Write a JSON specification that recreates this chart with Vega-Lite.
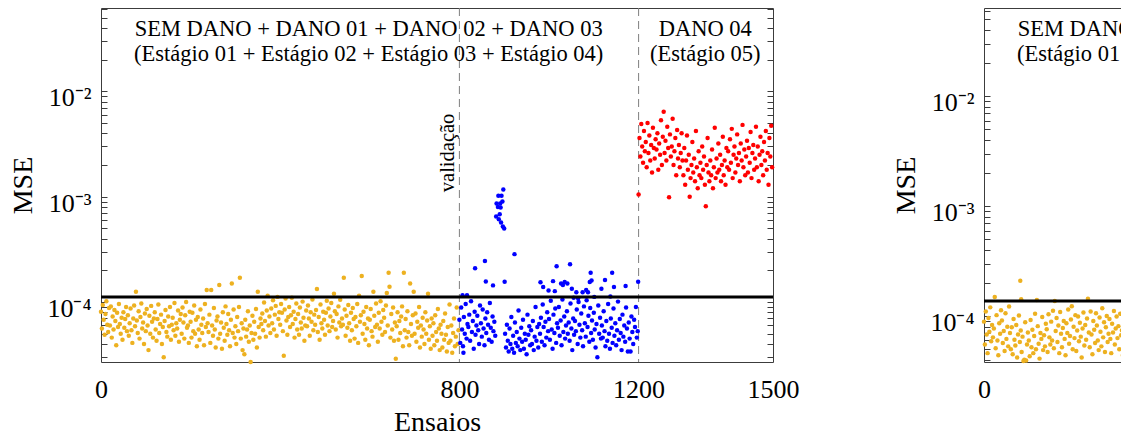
{
"$schema":"https://vega.github.io/schema/vega-lite/v6.json",
"background":"white",
"padding":{"left":8,"top":2,"right":5,"bottom":5},
"spacing":91,
"config":{"font":"Liberation Serif","view":{"stroke":"#3c3c3c","strokeWidth":1},
"axis":{"labelFont":"Liberation Serif","titleFont":"Liberation Serif","labelFontSize":26,"titleFontSize":28,"labelColor":"#000","titleColor":"#000","titleFontWeight":"normal","grid":false,"domain":false,"tickColor":"#3c3c3c","tickWidth":1}},
"datasets":{
"LO":[
{"x":0,"y":8.1e-5},{"x":2,"y":5.6e-5},{"x":4,"y":9.4e-5},{"x":6,"y":6.8e-5},{"x":8,"y":4.9e-5},{"x":10,"y":7.7e-5},{"x":12,"y":1.02e-4},{"x":14,"y":6.1e-5},{"x":16,"y":5.2e-5},{"x":18,"y":8.8e-5},
{"x":20,"y":6.0e-5},{"x":22,"y":9.1e-5},{"x":24,"y":4.6e-5},{"x":26,"y":7.3e-5},{"x":28,"y":5.5e-5},{"x":30,"y":8.4e-5},{"x":32,"y":6.6e-5},{"x":34,"y":3.9e-5},{"x":36,"y":7.9e-5},{"x":38,"y":5.8e-5},
{"x":40,"y":9.6e-5},{"x":42,"y":6.2e-5},{"x":44,"y":5.0e-5},{"x":46,"y":7.1e-5},{"x":48,"y":4.4e-5},{"x":50,"y":8.0e-5},{"x":52,"y":5.7e-5},{"x":54,"y":6.9e-5},{"x":56,"y":9.0e-5},{"x":58,"y":5.3e-5},
{"x":60,"y":7.5e-5},{"x":62,"y":4.8e-5},{"x":64,"y":6.3e-5},{"x":66,"y":8.7e-5},{"x":68,"y":5.4e-5},{"x":70,"y":4.1e-5},{"x":72,"y":7.0e-5},{"x":74,"y":9.3e-5},{"x":76,"y":5.9e-5},{"x":78,"y":1.25e-4},
{"x":80,"y":6.7e-5},{"x":82,"y":5.1e-5},{"x":84,"y":8.2e-5},{"x":86,"y":4.5e-5},{"x":88,"y":7.2e-5},{"x":90,"y":9.7e-5},{"x":92,"y":5.6e-5},{"x":94,"y":6.4e-5},{"x":96,"y":4.0e-5},{"x":98,"y":7.8e-5},
{"x":100,"y":5.3e-5},{"x":102,"y":8.6e-5},{"x":104,"y":6.0e-5},{"x":106,"y":3.5e-5},{"x":108,"y":7.4e-5},{"x":110,"y":5.0e-5},{"x":112,"y":9.2e-5},{"x":114,"y":6.5e-5},{"x":116,"y":4.6e-5},{"x":118,"y":7.0e-5},
{"x":120,"y":8.0e-5},{"x":122,"y":5.5e-5},{"x":124,"y":4.3e-5},{"x":126,"y":6.9e-5},{"x":128,"y":9.5e-5},{"x":130,"y":5.1e-5},{"x":132,"y":6.2e-5},{"x":134,"y":7.6e-5},{"x":136,"y":4.0e-5},{"x":138,"y":5.8e-5},
{"x":140,"y":3.0e-5},{"x":142,"y":6.6e-5},{"x":144,"y":8.4e-5},{"x":146,"y":5.2e-5},{"x":148,"y":4.7e-5},{"x":150,"y":7.3e-5},{"x":152,"y":5.9e-5},{"x":154,"y":9.0e-5},{"x":156,"y":4.4e-5},{"x":158,"y":6.1e-5},
{"x":160,"y":7.1e-5},{"x":162,"y":5.4e-5},{"x":164,"y":9.8e-5},{"x":166,"y":4.8e-5},{"x":168,"y":6.3e-5},{"x":170,"y":5.6e-5},{"x":172,"y":8.3e-5},{"x":174,"y":4.2e-5},{"x":176,"y":6.8e-5},{"x":178,"y":7.7e-5},
{"x":180,"y":5.0e-5},{"x":182,"y":8.9e-5},{"x":184,"y":6.4e-5},{"x":186,"y":4.5e-5},{"x":188,"y":7.5e-5},{"x":190,"y":1.0e-4},{"x":192,"y":5.7e-5},{"x":194,"y":6.0e-5},{"x":196,"y":4.1e-5},{"x":198,"y":8.1e-5},
{"x":200,"y":6.5e-5},{"x":202,"y":4.6e-5},{"x":204,"y":7.9e-5},{"x":206,"y":5.3e-5},{"x":208,"y":9.3e-5},{"x":210,"y":5.0e-5},{"x":212,"y":6.8e-5},{"x":214,"y":3.8e-5},{"x":216,"y":7.2e-5},{"x":218,"y":5.5e-5},
{"x":220,"y":4.4e-5},{"x":222,"y":8.5e-5},{"x":224,"y":6.1e-5},{"x":226,"y":5.1e-5},{"x":228,"y":7.0e-5},{"x":230,"y":3.9e-5},{"x":232,"y":9.6e-5},{"x":234,"y":5.8e-5},{"x":236,"y":1.3e-4},{"x":238,"y":6.3e-5},
{"x":240,"y":5.2e-5},{"x":242,"y":7.6e-5},{"x":244,"y":4.1e-5},{"x":246,"y":1.3e-4},{"x":248,"y":6.0e-5},{"x":250,"y":4.8e-5},{"x":252,"y":8.8e-5},{"x":254,"y":5.5e-5},{"x":256,"y":3.7e-5},{"x":258,"y":6.7e-5},
{"x":260,"y":7.3e-5},{"x":262,"y":4.5e-5},{"x":264,"y":1.45e-4},{"x":266,"y":5.0e-5},{"x":268,"y":6.4e-5},{"x":270,"y":3.6e-5},{"x":272,"y":8.0e-5},{"x":274,"y":5.7e-5},{"x":276,"y":4.3e-5},{"x":278,"y":9.1e-5},
{"x":280,"y":6.2e-5},{"x":282,"y":4.9e-5},{"x":284,"y":7.7e-5},{"x":286,"y":5.4e-5},{"x":288,"y":3.8e-5},{"x":290,"y":6.8e-5},{"x":292,"y":1.5e-4},{"x":294,"y":5.1e-5},{"x":296,"y":8.5e-5},{"x":298,"y":4.6e-5},
{"x":300,"y":5.9e-5},{"x":302,"y":4.0e-5},{"x":304,"y":7.2e-5},{"x":306,"y":5.3e-5},{"x":308,"y":9.0e-5},{"x":310,"y":1.7e-4},{"x":312,"y":4.5e-5},{"x":314,"y":6.3e-5},{"x":316,"y":3.5e-5},{"x":318,"y":5.6e-5},
{"x":320,"y":3.2e-5},{"x":322,"y":6.8e-5},{"x":324,"y":4.7e-5},{"x":326,"y":5.5e-5},{"x":328,"y":8.2e-5},{"x":330,"y":4.2e-5},{"x":332,"y":6.0e-5},{"x":334,"y":2.7e-5},{"x":336,"y":5.1e-5},{"x":338,"y":7.4e-5},
{"x":340,"y":4.4e-5},{"x":342,"y":6.5e-5},{"x":344,"y":5.0e-5},{"x":346,"y":8.6e-5},{"x":348,"y":3.7e-5},{"x":350,"y":1.25e-4},{"x":352,"y":5.8e-5},{"x":354,"y":4.6e-5},{"x":356,"y":7.0e-5},{"x":358,"y":6.2e-5},
{"x":360,"y":7.8e-5},{"x":362,"y":5.4e-5},{"x":364,"y":9.9e-5},{"x":366,"y":6.6e-5},{"x":368,"y":4.7e-5},{"x":370,"y":8.3e-5},{"x":372,"y":1.15e-4},{"x":374,"y":6.0e-5},{"x":376,"y":7.3e-5},{"x":378,"y":5.1e-5},
{"x":380,"y":8.7e-5},{"x":382,"y":6.3e-5},{"x":384,"y":1.04e-4},{"x":386,"y":5.5e-5},{"x":388,"y":7.6e-5},{"x":390,"y":9.2e-5},{"x":392,"y":4.8e-5},{"x":394,"y":1.12e-4},{"x":396,"y":6.9e-5},{"x":398,"y":8.0e-5},
{"x":400,"y":6.1e-5},{"x":402,"y":9.6e-5},{"x":404,"y":7.9e-5},{"x":406,"y":5.3e-5},{"x":408,"y":3.1e-5},{"x":410,"y":8.5e-5},{"x":412,"y":1.08e-4},{"x":414,"y":6.7e-5},{"x":416,"y":4.9e-5},{"x":418,"y":7.2e-5},
{"x":420,"y":9.0e-5},{"x":422,"y":5.8e-5},{"x":424,"y":7.5e-5},{"x":426,"y":1.1e-4},{"x":428,"y":6.2e-5},{"x":430,"y":8.1e-5},{"x":432,"y":4.6e-5},{"x":434,"y":6.9e-5},{"x":436,"y":9.7e-5},{"x":438,"y":5.5e-5},
{"x":440,"y":7.7e-5},{"x":442,"y":4.9e-5},{"x":444,"y":8.9e-5},{"x":446,"y":6.4e-5},{"x":448,"y":5.6e-5},{"x":450,"y":1.01e-4},{"x":452,"y":7.1e-5},{"x":454,"y":4.3e-5},{"x":456,"y":6.0e-5},{"x":458,"y":8.3e-5},
{"x":460,"y":5.9e-5},{"x":462,"y":9.3e-5},{"x":464,"y":7.0e-5},{"x":466,"y":4.8e-5},{"x":468,"y":8.0e-5},{"x":470,"y":6.5e-5},{"x":472,"y":1.06e-4},{"x":474,"y":5.4e-5},{"x":476,"y":7.6e-5},{"x":478,"y":6.1e-5},
{"x":480,"y":8.4e-5},{"x":482,"y":1.33e-4},{"x":484,"y":5.2e-5},{"x":486,"y":7.2e-5},{"x":488,"y":4.4e-5},{"x":490,"y":9.5e-5},{"x":492,"y":6.3e-5},{"x":494,"y":5.6e-5},{"x":496,"y":8.1e-5},{"x":498,"y":6.8e-5},
{"x":500,"y":4.9e-5},{"x":502,"y":7.9e-5},{"x":504,"y":1.03e-4},{"x":506,"y":6.0e-5},{"x":508,"y":8.7e-5},{"x":510,"y":5.3e-5},{"x":512,"y":7.3e-5},{"x":514,"y":9.8e-5},{"x":516,"y":5.8e-5},{"x":518,"y":6.6e-5},
{"x":520,"y":1.2e-4},{"x":522,"y":8.2e-5},{"x":524,"y":5.5e-5},{"x":526,"y":7.7e-5},{"x":528,"y":4.6e-5},{"x":530,"y":9.1e-5},{"x":532,"y":6.4e-5},{"x":534,"y":1.05e-4},{"x":536,"y":5.9e-5},{"x":538,"y":7.0e-5},
{"x":540,"y":6.1e-5},{"x":542,"y":1.7e-4},{"x":544,"y":8.5e-5},{"x":546,"y":4.8e-5},{"x":548,"y":7.4e-5},{"x":550,"y":5.7e-5},{"x":552,"y":9.4e-5},{"x":554,"y":6.3e-5},{"x":556,"y":4.3e-5},{"x":558,"y":7.9e-5},
{"x":560,"y":5.4e-5},{"x":562,"y":8.8e-5},{"x":564,"y":6.9e-5},{"x":566,"y":4.5e-5},{"x":568,"y":7.2e-5},{"x":570,"y":5.9e-5},{"x":572,"y":9.6e-5},{"x":574,"y":4.1e-5},{"x":576,"y":1.15e-4},{"x":578,"y":6.5e-5},
{"x":580,"y":7.5e-5},{"x":582,"y":1.77e-4},{"x":584,"y":5.0e-5},{"x":586,"y":8.1e-5},{"x":588,"y":6.2e-5},{"x":590,"y":4.4e-5},{"x":592,"y":9.0e-5},{"x":594,"y":5.6e-5},{"x":596,"y":7.0e-5},{"x":598,"y":3.9e-5},
{"x":600,"y":6.8e-5},{"x":602,"y":8.6e-5},{"x":604,"y":5.3e-5},{"x":606,"y":4.7e-5},{"x":608,"y":1.25e-4},{"x":610,"y":7.4e-5},{"x":612,"y":5.8e-5},{"x":614,"y":9.7e-5},{"x":616,"y":6.1e-5},{"x":618,"y":4.2e-5},
{"x":620,"y":7.9e-5},{"x":622,"y":5.6e-5},{"x":624,"y":1.02e-4},{"x":626,"y":6.5e-5},{"x":628,"y":4.9e-5},{"x":630,"y":8.4e-5},{"x":632,"y":7.1e-5},{"x":634,"y":5.2e-5},{"x":636,"y":9.3e-5},{"x":638,"y":1.22e-4},
{"x":640,"y":6.0e-5},{"x":642,"y":1.9e-4},{"x":644,"y":1.4e-4},{"x":646,"y":4.6e-5},{"x":648,"y":7.7e-5},{"x":650,"y":5.5e-5},{"x":652,"y":8.9e-5},{"x":654,"y":4.3e-5},{"x":656,"y":6.4e-5},{"x":658,"y":2.9e-5},
{"x":660,"y":5.9e-5},{"x":662,"y":8.0e-5},{"x":664,"y":4.4e-5},{"x":666,"y":6.6e-5},{"x":668,"y":5.1e-5},{"x":670,"y":7.3e-5},{"x":672,"y":9.1e-5},{"x":674,"y":3.8e-5},{"x":676,"y":1.9e-4},{"x":678,"y":5.4e-5},
{"x":680,"y":6.9e-5},{"x":682,"y":4.6e-5},{"x":684,"y":8.2e-5},{"x":686,"y":5.2e-5},{"x":688,"y":3.9e-5},{"x":690,"y":1.5e-4},{"x":692,"y":6.2e-5},{"x":694,"y":4.8e-5},{"x":696,"y":7.5e-5},{"x":698,"y":1.25e-4},
{"x":700,"y":5.0e-5},{"x":702,"y":7.8e-5},{"x":704,"y":4.2e-5},{"x":706,"y":6.5e-5},{"x":708,"y":5.7e-5},{"x":710,"y":9.0e-5},{"x":712,"y":3.7e-5},{"x":714,"y":6.0e-5},{"x":716,"y":4.7e-5},{"x":718,"y":7.1e-5},
{"x":720,"y":5.5e-5},{"x":722,"y":4.0e-5},{"x":724,"y":8.0e-5},{"x":726,"y":5.0e-5},{"x":728,"y":6.7e-5},{"x":730,"y":1.2e-4},{"x":732,"y":4.4e-5},{"x":734,"y":5.9e-5},{"x":736,"y":3.6e-5},{"x":738,"y":7.0e-5},
{"x":740,"y":4.8e-5},{"x":742,"y":6.3e-5},{"x":744,"y":3.9e-5},{"x":746,"y":7.5e-5},{"x":748,"y":5.2e-5},{"x":750,"y":4.3e-5},{"x":752,"y":8.6e-5},{"x":754,"y":5.6e-5},{"x":756,"y":3.5e-5},{"x":758,"y":6.1e-5},
{"x":760,"y":5.0e-5},{"x":762,"y":3.7e-5},{"x":764,"y":6.6e-5},{"x":766,"y":4.4e-5},{"x":768,"y":7.8e-5},{"x":770,"y":4.9e-5},{"x":772,"y":3.4e-5},{"x":774,"y":5.8e-5},{"x":776,"y":4.1e-5},{"x":778,"y":9.5e-5},
{"x":780,"y":4.3e-5},{"x":782,"y":6.0e-5},{"x":784,"y":3.3e-5},{"x":786,"y":5.1e-5},{"x":788,"y":7.0e-5},{"x":790,"y":3.8e-5},{"x":792,"y":4.7e-5},{"x":794,"y":8.9e-5},{"x":796,"y":4.0e-5},{"x":798,"y":5.4e-5}
],
"LB":[
{"x":800,"y":6.8e-5},{"x":802,"y":4.1e-5},{"x":804,"y":8.9e-5},{"x":806,"y":5.5e-5},{"x":808,"y":3.8e-5},{"x":810,"y":7.2e-5},{"x":812,"y":5.0e-5},{"x":814,"y":9.6e-5},{"x":816,"y":4.5e-5},{"x":818,"y":6.2e-5},
{"x":820,"y":5.8e-5},{"x":822,"y":7.6e-5},{"x":824,"y":4.3e-5},{"x":826,"y":1.02e-4},{"x":828,"y":5.2e-5},{"x":830,"y":6.6e-5},{"x":832,"y":3.6e-5},{"x":834,"y":8.1e-5},{"x":836,"y":4.9e-5},{"x":838,"y":6.0e-5},
{"x":840,"y":7.4e-5},{"x":842,"y":5.4e-5},{"x":844,"y":4.0e-5},{"x":846,"y":9.3e-5},{"x":848,"y":6.3e-5},{"x":850,"y":4.7e-5},{"x":852,"y":8.5e-5},{"x":854,"y":5.6e-5},{"x":856,"y":3.9e-5},{"x":858,"y":7.0e-5},
{"x":860,"y":5.1e-5},{"x":862,"y":8.0e-5},{"x":864,"y":6.1e-5},{"x":866,"y":4.4e-5},{"x":868,"y":9.8e-5},{"x":870,"y":5.7e-5},{"x":872,"y":4.2e-5},{"x":874,"y":7.3e-5},{"x":876,"y":5.3e-5},{"x":878,"y":6.5e-5},
{"x":880,"y":4.8e-5},
{"x":882,"y":6.5e-4},{"x":883,"y":8.6e-4},{"x":886,"y":8.0e-4},{"x":887,"y":1.02e-3},{"x":888,"y":6.1e-4},{"x":890,"y":6.8e-4},{"x":891,"y":8.6e-4},{"x":892,"y":7.9e-4},{"x":893,"y":5.7e-4},{"x":894,"y":1.02e-3},{"x":896,"y":9.0e-4},{"x":897,"y":5.2e-4},{"x":898,"y":1.17e-3},{"x":900,"y":5.0e-4},
{"x":902,"y":5.0e-5},{"x":904,"y":3.7e-5},{"x":906,"y":6.1e-5},{"x":908,"y":4.3e-5},{"x":910,"y":3.4e-5},{"x":912,"y":5.6e-5},{"x":914,"y":4.0e-5},{"x":916,"y":7.2e-5},{"x":918,"y":3.6e-5},
{"x":920,"y":4.8e-5},{"x":922,"y":3.3e-5},{"x":924,"y":6.4e-5},{"x":926,"y":4.1e-5},{"x":928,"y":5.2e-5},{"x":930,"y":3.8e-5},{"x":932,"y":8.3e-5},{"x":934,"y":4.5e-5},{"x":936,"y":3.5e-5},{"x":938,"y":5.7e-5},
{"x":940,"y":4.2e-5},{"x":942,"y":6.8e-5},{"x":944,"y":3.6e-5},{"x":946,"y":5.0e-5},{"x":948,"y":4.4e-5},{"x":950,"y":3.2e-5},{"x":952,"y":7.6e-5},{"x":954,"y":4.9e-5},{"x":956,"y":5.9e-5},{"x":958,"y":3.9e-5},
{"x":960,"y":5.4e-5},{"x":962,"y":4.0e-5},{"x":964,"y":6.6e-5},{"x":966,"y":3.5e-5},{"x":968,"y":4.7e-5},{"x":970,"y":9.0e-5},{"x":972,"y":4.3e-5},{"x":974,"y":5.8e-5},{"x":976,"y":3.7e-5},{"x":978,"y":6.2e-5},
{"x":980,"y":5.0e-5},{"x":982,"y":7.1e-5},{"x":984,"y":4.2e-5},{"x":986,"y":9.5e-5},{"x":988,"y":5.8e-5},{"x":990,"y":3.9e-5},{"x":992,"y":6.5e-5},{"x":994,"y":4.6e-5},{"x":996,"y":8.0e-5},{"x":998,"y":5.3e-5},
{"x":1000,"y":6.9e-5},{"x":1002,"y":4.4e-5},{"x":1004,"y":1.03e-4},{"x":1006,"y":5.5e-5},{"x":1008,"y":3.6e-5},{"x":1010,"y":7.6e-5},{"x":1012,"y":5.1e-5},{"x":1014,"y":8.7e-5},{"x":1016,"y":4.1e-5},{"x":1018,"y":6.3e-5},
{"x":1020,"y":5.7e-5},{"x":1022,"y":9.0e-5},{"x":1024,"y":4.8e-5},{"x":1026,"y":6.7e-5},{"x":1028,"y":3.9e-5},{"x":1030,"y":1.06e-4},{"x":1032,"y":5.2e-5},{"x":1034,"y":7.3e-5},{"x":1036,"y":4.5e-5},{"x":1038,"y":6.0e-5},
{"x":1040,"y":8.2e-5},{"x":1042,"y":5.0e-5},{"x":1044,"y":6.4e-5},{"x":1046,"y":4.3e-5},{"x":1048,"y":9.7e-5},{"x":1050,"y":5.6e-5},{"x":1052,"y":3.5e-5},{"x":1054,"y":7.0e-5},{"x":1056,"y":4.9e-5},{"x":1058,"y":6.6e-5},
{"x":1060,"y":5.3e-5},{"x":1062,"y":8.5e-5},{"x":1064,"y":4.0e-5},{"x":1066,"y":1.0e-4},{"x":1068,"y":6.1e-5},{"x":1070,"y":4.6e-5},{"x":1072,"y":7.8e-5},{"x":1074,"y":5.4e-5},{"x":1076,"y":3.8e-5},{"x":1078,"y":9.1e-5},
{"x":1080,"y":6.3e-5},{"x":1082,"y":4.7e-5},{"x":1084,"y":1.04e-4},{"x":1086,"y":5.8e-5},{"x":1088,"y":7.4e-5},{"x":1090,"y":4.2e-5},{"x":1092,"y":8.8e-5},{"x":1094,"y":5.1e-5},{"x":1096,"y":6.7e-5},{"x":1098,"y":4.4e-5},
{"x":1100,"y":7.9e-5},{"x":1102,"y":5.5e-5},{"x":1104,"y":3.7e-5},{"x":1106,"y":6.2e-5},{"x":1108,"y":3.0e-5},{"x":1110,"y":9.3e-5},{"x":1112,"y":5.0e-5},{"x":1114,"y":7.1e-5},{"x":1116,"y":4.5e-5},{"x":1118,"y":6.0e-5},
{"x":1120,"y":4.6e-5},{"x":1122,"y":8.2e-5},{"x":1124,"y":5.3e-5},{"x":1126,"y":3.8e-5},{"x":1128,"y":6.6e-5},{"x":1130,"y":4.3e-5},{"x":1132,"y":9.6e-5},{"x":1134,"y":5.0e-5},{"x":1136,"y":3.6e-5},{"x":1138,"y":7.0e-5},
{"x":1140,"y":5.7e-5},{"x":1142,"y":4.1e-5},{"x":1144,"y":8.7e-5},{"x":1146,"y":4.8e-5},{"x":1148,"y":6.3e-5},{"x":1150,"y":3.9e-5},{"x":1152,"y":5.4e-5},{"x":1154,"y":1.01e-4},{"x":1156,"y":4.4e-5},{"x":1158,"y":6.9e-5},
{"x":1160,"y":5.1e-5},{"x":1162,"y":3.5e-5},{"x":1164,"y":7.6e-5},{"x":1166,"y":4.7e-5},{"x":1168,"y":6.0e-5},{"x":1170,"y":4.2e-5},{"x":1172,"y":8.9e-5},{"x":1174,"y":5.6e-5},{"x":1176,"y":3.4e-5},{"x":1178,"y":6.4e-5},
{"x":1180,"y":4.5e-5},{"x":1182,"y":3.4e-5},{"x":1184,"y":7.3e-5},{"x":1186,"y":5.2e-5},{"x":1188,"y":4.0e-5},{"x":1190,"y":6.8e-5},{"x":1192,"y":5.8e-5},{"x":1194,"y":9.0e-5},{"x":1196,"y":4.6e-5},{"x":1198,"y":5.3e-5},
{"x":807,"y":1.16e-4},{"x":809,"y":3.3e-5},{"x":817,"y":1.16e-4},{"x":835,"y":2.09e-4},{"x":857,"y":2.45e-4},{"x":859,"y":1.57e-4},{"x":875,"y":1.44e-4},{"x":901,"y":1.56e-4},{"x":923,"y":2.85e-4},{"x":981,"y":1.54e-4},
{"x":987,"y":1.39e-4},{"x":999,"y":1.29e-4},{"x":1009,"y":1.58e-4},{"x":1013,"y":1.27e-4},{"x":1017,"y":2.19e-4},{"x":1027,"y":1.5e-4},{"x":1031,"y":1.45e-4},{"x":1035,"y":1.55e-4},{"x":1041,"y":1.5e-4},{"x":1047,"y":2.28e-4},
{"x":1051,"y":1.34e-4},{"x":1055,"y":1.1e-4},{"x":1061,"y":1.24e-4},{"x":1065,"y":1.08e-4},{"x":1075,"y":1.24e-4},{"x":1083,"y":1.3e-4},{"x":1087,"y":1.24e-4},{"x":1091,"y":1.55e-4},{"x":1093,"y":1.9e-4},{"x":1095,"y":1.6e-4},
{"x":1101,"y":1.12e-4},{"x":1117,"y":1.34e-4},{"x":1125,"y":1.62e-4},{"x":1137,"y":1.13e-4},{"x":1141,"y":1.9e-4},{"x":1145,"y":1.39e-4},{"x":1171,"y":1.42e-4},{"x":1199,"y":1.56e-4}
],
"LR":[
{"x":1200,"y":1.05e-3},{"x":1202,"y":3.6e-3},{"x":1204,"y":2.4e-3},{"x":1206,"y":4.9e-3},{"x":1208,"y":3.0e-3},{"x":1210,"y":2.1e-3},{"x":1212,"y":4.2e-3},{"x":1214,"y":2.7e-3},{"x":1216,"y":3.3e-3},{"x":1218,"y":1.9e-3},
{"x":1220,"y":5.0e-3},{"x":1222,"y":2.6e-3},{"x":1224,"y":3.8e-3},{"x":1226,"y":2.2e-3},{"x":1228,"y":3.1e-3},{"x":1230,"y":1.7e-3},{"x":1232,"y":4.5e-3},{"x":1234,"y":2.9e-3},{"x":1236,"y":2.3e-3},{"x":1238,"y":3.5e-3},
{"x":1240,"y":2.8e-3},{"x":1242,"y":4.0e-3},{"x":1244,"y":1.8e-3},{"x":1246,"y":3.2e-3},{"x":1248,"y":2.5e-3},{"x":1250,"y":5.3e-3},{"x":1252,"y":2.0e-3},{"x":1254,"y":3.7e-3},{"x":1256,"y":6.4e-3},{"x":1258,"y":2.6e-3},
{"x":1260,"y":3.4e-3},{"x":1262,"y":2.2e-3},{"x":1264,"y":4.6e-3},{"x":1266,"y":2.9e-3},{"x":1268,"y":9.9e-4},{"x":1270,"y":3.9e-3},{"x":1272,"y":2.4e-3},{"x":1274,"y":3.0e-3},{"x":1276,"y":5.5e-3},{"x":1278,"y":2.0e-3},
{"x":1280,"y":2.7e-3},{"x":1282,"y":3.6e-3},{"x":1284,"y":1.6e-3},{"x":1286,"y":4.3e-3},{"x":1288,"y":2.3e-3},{"x":1290,"y":3.1e-3},{"x":1292,"y":1.9e-3},{"x":1294,"y":2.6e-3},{"x":1296,"y":4.0e-3},{"x":1298,"y":2.2e-3},
{"x":1300,"y":1.6e-3},{"x":1302,"y":2.9e-3},{"x":1304,"y":1.3e-3},{"x":1306,"y":2.2e-3},{"x":1308,"y":3.8e-3},{"x":1310,"y":1.8e-3},{"x":1312,"y":2.5e-3},{"x":1314,"y":1.0e-3},{"x":1316,"y":1.5e-3},{"x":1318,"y":2.0e-3},
{"x":1320,"y":3.3e-3},{"x":1322,"y":1.7e-3},{"x":1324,"y":2.3e-3},{"x":1326,"y":1.4e-3},{"x":1328,"y":4.2e-3},{"x":1330,"y":1.9e-3},{"x":1332,"y":1.2e-3},{"x":1334,"y":2.7e-3},{"x":1336,"y":1.6e-3},{"x":1338,"y":2.1e-3},
{"x":1340,"y":1.5e-3},{"x":1342,"y":3.0e-3},{"x":1344,"y":1.8e-3},{"x":1346,"y":2.4e-3},{"x":1348,"y":1.3e-3},{"x":1350,"y":8.1e-4},{"x":1352,"y":2.0e-3},{"x":1354,"y":3.6e-3},{"x":1356,"y":1.7e-3},{"x":1358,"y":1.4e-3},
{"x":1360,"y":2.2e-3},{"x":1362,"y":1.6e-3},{"x":1364,"y":2.8e-3},{"x":1366,"y":1.2e-3},{"x":1368,"y":1.9e-3},{"x":1370,"y":4.5e-3},{"x":1372,"y":1.5e-3},{"x":1374,"y":2.3e-3},{"x":1376,"y":1.7e-3},{"x":1378,"y":3.2e-3},
{"x":1380,"y":1.8e-3},{"x":1382,"y":2.5e-3},{"x":1384,"y":1.4e-3},{"x":1386,"y":2.0e-3},{"x":1388,"y":3.7e-3},{"x":1390,"y":1.6e-3},{"x":1392,"y":2.2e-3},{"x":1394,"y":1.3e-3},{"x":1396,"y":2.9e-3},{"x":1398,"y":1.9e-3},
{"x":1400,"y":2.7e-3},{"x":1402,"y":1.8e-3},{"x":1404,"y":3.5e-3},{"x":1406,"y":2.1e-3},{"x":1408,"y":4.4e-3},{"x":1410,"y":1.5e-3},{"x":1412,"y":2.5e-3},{"x":1414,"y":3.0e-3},{"x":1416,"y":1.7e-3},{"x":1418,"y":2.3e-3},
{"x":1420,"y":3.9e-3},{"x":1422,"y":2.0e-3},{"x":1424,"y":2.6e-3},{"x":1426,"y":1.4e-3},{"x":1428,"y":3.2e-3},{"x":1430,"y":2.2e-3},{"x":1432,"y":4.8e-3},{"x":1434,"y":1.9e-3},{"x":1436,"y":2.8e-3},{"x":1438,"y":1.6e-3},
{"x":1440,"y":2.4e-3},{"x":1442,"y":3.4e-3},{"x":1444,"y":1.7e-3},{"x":1446,"y":2.9e-3},{"x":1448,"y":2.1e-3},{"x":1450,"y":4.1e-3},{"x":1452,"y":1.5e-3},{"x":1454,"y":2.6e-3},{"x":1456,"y":3.1e-3},{"x":1458,"y":1.8e-3},
{"x":1460,"y":2.3e-3},{"x":1462,"y":4.6e-3},{"x":1464,"y":1.9e-3},{"x":1466,"y":3.0e-3},{"x":1468,"y":1.4e-3},{"x":1470,"y":2.5e-3},{"x":1472,"y":3.7e-3},{"x":1474,"y":2.0e-3},{"x":1476,"y":2.7e-3},{"x":1478,"y":1.6e-3},
{"x":1480,"y":3.3e-3},{"x":1482,"y":2.2e-3},{"x":1484,"y":4.2e-3},{"x":1486,"y":1.8e-3},{"x":1488,"y":2.6e-3},{"x":1490,"y":1.3e-3},{"x":1492,"y":3.6e-3},{"x":1494,"y":2.4e-3},{"x":1496,"y":4.7e-3},{"x":1498,"y":1.9e-3}
],
"RO":[
{"x":0,"y":8.9e-5},{"x":2,"y":5.5e-5},{"x":4,"y":1.1e-4},{"x":6,"y":6.8e-5},{"x":8,"y":4.6e-5},{"x":10,"y":9.6e-5},{"x":12,"y":7.2e-5},{"x":14,"y":1.2e-4},{"x":16,"y":5.9e-5},{"x":18,"y":8.3e-5},
{"x":20,"y":6.4e-5},{"x":22,"y":7.7e-5},{"x":24,"y":1.49e-4},{"x":26,"y":5.1e-5},{"x":28,"y":1.02e-4},{"x":30,"y":6.0e-5},{"x":32,"y":4.4e-5},{"x":34,"y":8.6e-5},{"x":36,"y":6.9e-5},{"x":38,"y":1.13e-4},
{"x":40,"y":9.1e-5},{"x":42,"y":5.7e-5},{"x":44,"y":7.3e-5},{"x":46,"y":4.8e-5},{"x":48,"y":1.06e-4},{"x":50,"y":6.2e-5},{"x":52,"y":8.0e-5},{"x":54,"y":5.3e-5},{"x":56,"y":1.22e-4},{"x":58,"y":7.0e-5},
{"x":60,"y":5.0e-5},{"x":62,"y":7.9e-5},{"x":64,"y":4.5e-5},{"x":66,"y":9.4e-5},{"x":68,"y":6.1e-5},{"x":70,"y":5.4e-5},{"x":72,"y":8.3e-5},{"x":74,"y":4.2e-5},{"x":76,"y":6.8e-5},{"x":78,"y":1.01e-4},
{"x":80,"y":5.8e-5},{"x":81,"y":2.1e-4},{"x":82,"y":7.4e-5},{"x":83,"y":1.42e-4},{"x":84,"y":4.7e-5},{"x":86,"y":6.5e-5},{"x":88,"y":3.9e-5},{"x":90,"y":4.0e-5},{"x":92,"y":8.8e-5},{"x":94,"y":3.95e-5},{"x":96,"y":5.5e-5},{"x":98,"y":7.1e-5},
{"x":100,"y":6.0e-5},{"x":102,"y":4.3e-5},{"x":104,"y":9.2e-5},{"x":106,"y":5.2e-5},{"x":108,"y":7.5e-5},{"x":110,"y":4.6e-5},{"x":112,"y":6.6e-5},{"x":114,"y":1.05e-4},{"x":116,"y":5.0e-5},{"x":118,"y":1.4e-4},
{"x":120,"y":8.1e-5},{"x":122,"y":5.6e-5},{"x":124,"y":4.1e-5},{"x":126,"y":7.0e-5},{"x":128,"y":6.2e-5},{"x":130,"y":9.8e-5},{"x":132,"y":4.9e-5},{"x":134,"y":6.7e-5},{"x":136,"y":5.3e-5},{"x":138,"y":8.5e-5},
{"x":140,"y":7.6e-5},{"x":142,"y":4.7e-5},{"x":144,"y":1.04e-4},{"x":146,"y":6.4e-5},{"x":148,"y":5.5e-5},{"x":150,"y":8.9e-5},{"x":152,"y":6.0e-5},{"x":154,"y":1.12e-4},{"x":156,"y":5.1e-5},{"x":158,"y":1.37e-4},
{"x":160,"y":7.3e-5},{"x":162,"y":9.6e-5},{"x":164,"y":5.8e-5},{"x":166,"y":8.2e-5},{"x":168,"y":4.6e-5},{"x":170,"y":1.09e-4},{"x":172,"y":6.9e-5},{"x":174,"y":5.2e-5},{"x":176,"y":7.8e-5},{"x":178,"y":9.0e-5},
{"x":180,"y":6.2e-5},{"x":182,"y":4.4e-5},{"x":184,"y":8.6e-5},{"x":186,"y":7.0e-5},{"x":188,"y":1.15e-4},{"x":190,"y":5.6e-5},{"x":192,"y":6.6e-5},{"x":194,"y":9.3e-5},{"x":196,"y":1.23e-4},{"x":198,"y":5.0e-5},
{"x":200,"y":8.0e-5},{"x":202,"y":6.3e-5},{"x":204,"y":1.02e-4},{"x":206,"y":4.8e-5},{"x":208,"y":7.4e-5},{"x":210,"y":9.9e-5},{"x":212,"y":5.9e-5},{"x":214,"y":8.7e-5},{"x":216,"y":6.5e-5},{"x":218,"y":4.2e-5},
{"x":220,"y":7.7e-5},{"x":222,"y":1.08e-4},{"x":224,"y":5.4e-5},{"x":226,"y":8.3e-5},{"x":228,"y":6.1e-5},{"x":230,"y":9.5e-5},{"x":232,"y":1.44e-4},{"x":234,"y":7.1e-5},{"x":236,"y":5.2e-5},{"x":238,"y":1.1e-4},
{"x":240,"y":6.8e-5},{"x":242,"y":4.5e-5},{"x":244,"y":9.0e-5},{"x":246,"y":7.5e-5},{"x":248,"y":5.7e-5},{"x":250,"y":1.06e-4},{"x":252,"y":8.2e-5},{"x":254,"y":6.0e-5},{"x":256,"y":4.9e-5},{"x":258,"y":9.7e-5},
{"x":260,"y":7.2e-5},{"x":262,"y":5.3e-5},{"x":264,"y":1.18e-4},{"x":266,"y":6.4e-5},{"x":268,"y":8.8e-5},{"x":270,"y":4.7e-5},{"x":272,"y":7.9e-5},{"x":274,"y":1.0e-4},{"x":276,"y":5.8e-5},{"x":278,"y":6.9e-5},
{"x":280,"y":9.4e-5},{"x":282,"y":6.2e-5},{"x":284,"y":4.6e-5},{"x":286,"y":8.5e-5},{"x":288,"y":7.1e-5},{"x":290,"y":1.11e-4},{"x":292,"y":5.5e-5},{"x":294,"y":7.7e-5},{"x":296,"y":9.9e-5},{"x":298,"y":6.3e-5},
{"x":300,"y":8.1e-5},{"x":302,"y":5.0e-5},{"x":304,"y":1.05e-4},{"x":306,"y":6.7e-5},{"x":308,"y":7.4e-5},{"x":310,"y":4.4e-5},{"x":312,"y":9.2e-5},{"x":314,"y":6.0e-5},{"x":316,"y":1.16e-4},{"x":318,"y":7.8e-5}
]
},
"hconcat":[
{"width":672,"height":354,
"resolve":{"axis":{"x":"independent","y":"independent"}},
"layer":[
{"data":{"name":"LO"},"mark":{"type":"circle","size":20,"color":"#EDB120","opacity":1},
 "encoding":{
  "x":{"field":"x","type":"quantitative","scale":{"domain":[0,1500],"nice":false,"zero":false},
   "axis":{"orient":"bottom","values":[0,800,1200,1500],"format":"d","tickSize":0,"labelFlush":false,"labelPadding":14,"labelOverlap":false,"title":"Ensaios","titlePadding":6}},
  "y":{"field":"y","type":"quantitative","scale":{"type":"log","domain":[0.000027,0.0617],"nice":false},
   "axis":{"orient":"left","values":[0.00003,0.00004,0.00005,0.00006,0.00007,0.00008,0.00009,0.0001,0.0002,0.0003,0.0004,0.0005,0.0006,0.0007,0.0008,0.0009,0.001,0.002,0.003,0.004,0.005,0.006,0.007,0.008,0.009,0.01,0.02,0.03,0.04,0.05,0.06],
   "tickSize":-6,"labelPadding":16,"labelBaseline":"alphabetic","labelOffset":14.5,"labelOverlap":false,"labelBound":false,
   "labelExpr":"datum.value == 0.0001 ? '10⁻⁴' : datum.value == 0.001 ? '10⁻³' : datum.value == 0.01 ? '10⁻²' : ''",
   "title":"MSE","titleX":-70,"titleY":177,"titleBaseline":"alphabetic"}}}},
{"data":{"values":[{"v":800},{"v":1200}]},"mark":{"type":"rule","color":"#7f7f7f","strokeWidth":1,"strokeDash":[8,5]},
 "encoding":{"x":{"field":"v","type":"quantitative","axis":null}}},
{"data":{"name":"LB"},"mark":{"type":"circle","size":20,"color":"#0000FF","opacity":1},
 "encoding":{"x":{"field":"x","type":"quantitative","axis":null},"y":{"field":"y","type":"quantitative","axis":null}}},
{"data":{"name":"LR"},"mark":{"type":"circle","size":20,"color":"#FF0000","opacity":1},
 "encoding":{"x":{"field":"x","type":"quantitative","axis":null},"y":{"field":"y","type":"quantitative","axis":null}}},
{"data":{"values":[{"t":0.0001115}]},"mark":{"type":"rule","color":"black","strokeWidth":3},
 "encoding":{"y":{"field":"t","type":"quantitative",
  "axis":{"orient":"right","values":[0.00003,0.00004,0.00005,0.00006,0.00007,0.00008,0.00009,0.0001,0.0002,0.0003,0.0004,0.0005,0.0006,0.0007,0.0008,0.0009,0.001,0.002,0.003,0.004,0.005,0.006,0.007,0.008,0.009,0.01,0.02,0.03,0.04,0.05,0.06],"tickSize":-6,"labels":false,"title":null,"domain":false}}}},
{"data":{"values":[
 {"x":597.5,"y":0.0337,"t":"SEM DANO + DANO 01 + DANO 02 + DANO 03"},
 {"x":597.5,"y":0.01925,"t":"(Estágio 01 + Estágio 02 + Estágio 03 + Estágio 04)"},
 {"x":1348.7,"y":0.0337,"t":"DANO 04"},
 {"x":1348.7,"y":0.01925,"t":"(Estágio 05)"}]},
 "mark":{"type":"text","fontSize":22.5,"align":"center","baseline":"alphabetic","font":"Liberation Serif","color":"black"},
 "encoding":{"x":{"field":"x","type":"quantitative","axis":null},"y":{"field":"y","type":"quantitative","axis":null},"text":{"field":"t","type":"nominal"}}},
{"data":{"values":[{"x":787,"y":0.0026,"t":"validação"}]},
 "mark":{"type":"text","fontSize":20.5,"angle":270,"align":"center","baseline":"alphabetic","font":"Liberation Serif","color":"black"},
 "encoding":{"x":{"field":"x","type":"quantitative","axis":null},"y":{"field":"y","type":"quantitative","axis":null},"text":{"field":"t","type":"nominal"}}}
]},
{"width":672,"height":354,
"resolve":{"axis":{"x":"independent","y":"independent"}},
"layer":[
{"data":{"name":"RO"},"mark":{"type":"circle","size":20,"color":"#EDB120","opacity":1},
 "encoding":{
  "x":{"field":"x","type":"quantitative","scale":{"domain":[0,1500],"nice":false,"zero":false},
   "axis":{"orient":"bottom","values":[0,800,1200,1500],"format":"d","tickSize":0,"labelFlush":false,"labelPadding":14,"labelOverlap":false,"title":"Ensaios","titlePadding":6}},
  "y":{"field":"y","type":"quantitative","scale":{"type":"log","domain":[0.0000382,0.0636],"nice":false},
   "axis":{"orient":"left","values":[0.00004,0.00005,0.00006,0.00007,0.00008,0.00009,0.0001,0.0002,0.0003,0.0004,0.0005,0.0006,0.0007,0.0008,0.0009,0.001,0.002,0.003,0.004,0.005,0.006,0.007,0.008,0.009,0.01,0.02,0.03,0.04,0.05,0.06],
   "tickSize":-6,"labelPadding":16,"labelBaseline":"alphabetic","labelOffset":14.5,"labelOverlap":false,"labelBound":false,
   "labelExpr":"datum.value == 0.0001 ? '10⁻⁴' : datum.value == 0.001 ? '10⁻³' : datum.value == 0.01 ? '10⁻²' : ''",
   "title":"MSE","titleX":-70,"titleY":177,"titleBaseline":"alphabetic"}}}},
{"data":{"values":[{"v":800},{"v":1200}]},"mark":{"type":"rule","color":"#7f7f7f","strokeWidth":1,"strokeDash":[8,5]},
 "encoding":{"x":{"field":"v","type":"quantitative","axis":null}}},
{"data":{"values":[{"t":0.0001368}]},"mark":{"type":"rule","color":"black","strokeWidth":3},
 "encoding":{"y":{"field":"t","type":"quantitative",
  "axis":{"orient":"right","values":[0.00004,0.00005,0.00006,0.00007,0.00008,0.00009,0.0001,0.0002,0.0003,0.0004,0.0005,0.0006,0.0007,0.0008,0.0009,0.001,0.002,0.003,0.004,0.005,0.006,0.007,0.008,0.009,0.01,0.02,0.03,0.04,0.05,0.06],"tickSize":-6,"labels":false,"title":null,"domain":false}}}},
{"data":{"values":[
 {"x":597.5,"y":0.0357,"t":"SEM DANO + DANO 01 + DANO 02 + DANO 03"},
 {"x":597.5,"y":0.0208,"t":"(Estágio 01 + Estágio 02 + Estágio 03 + Estágio 04)"},
 {"x":1348.7,"y":0.0357,"t":"DANO 04"},
 {"x":1348.7,"y":0.0208,"t":"(Estágio 05)"}]},
 "mark":{"type":"text","fontSize":22.5,"align":"center","baseline":"alphabetic","font":"Liberation Serif","color":"black"},
 "encoding":{"x":{"field":"x","type":"quantitative","axis":null},"y":{"field":"y","type":"quantitative","axis":null},"text":{"field":"t","type":"nominal"}}},
{"data":{"values":[{"x":787,"y":0.00305,"t":"validação"}]},
 "mark":{"type":"text","fontSize":20.5,"angle":270,"align":"center","baseline":"alphabetic","font":"Liberation Serif","color":"black"},
 "encoding":{"x":{"field":"x","type":"quantitative","axis":null},"y":{"field":"y","type":"quantitative","axis":null},"text":{"field":"t","type":"nominal"}}}
]}
]
}
